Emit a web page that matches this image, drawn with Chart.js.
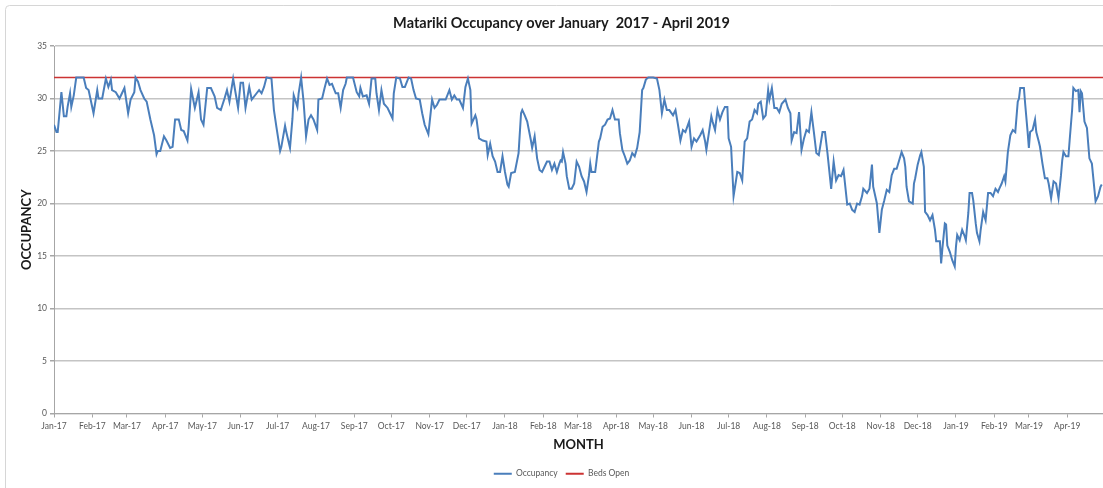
<!DOCTYPE html>
<html>
<head>
<meta charset="utf-8">
<title>Matariki Occupancy</title>
<script src="https://cdn.jsdelivr.net/npm/chart.js@4.4.1/dist/chart.umd.min.js"></script>
<style>
  html, body { margin: 0; padding: 0; background: #fff; }
  #wrap { width: 1103px; height: 488px; }
</style>
</head>
<body>
<div id="wrap"><canvas id="chart" width="1103" height="488"></canvas></div>
<script>
// Day of the period, counted from 1 January 2017 (day 0)
const days = [
  0,2,3,6,8,10,11,13,14,16,18,24,26,28,32,35,36,39,42,44,
  46,47,50,53,57,60,62,65,66,68,70,73,75,78,81,83,84,86,89,91,
  94,96,98,101,103,105,108,109,111,114,117,119,121,124,127,130,132,135,
  138,140,142,145,147,149,151,153,155,158,160,164,166,168,170,172,176,178,180,183,
  184,187,188,191,193,194,197,198,200,202,204,206,208,210,213,214,217,219,221,223,
  225,228,230,232,234,236,237,242,245,247,248,250,253,255,257,260,261,263,265,267,
  270,272,
  274,275,277,280,282,284,287,289,291,293,296,298,300,303,306,308,310,312,315,317,
  320,322,324,326,328,331,333,335,337,338,341,342,344,347,350,351,353,355,357,359,
  361,363,365,367,368,370,373,376,378,379,381,383,386,387,389,391,393,395,397,399,
  401,403,405,407,409,410,
  411,412,414,415,417,419,421,423,425,427,429,431,433,434,435,438,441,442,444,446,
  448,450,452,454,457,458,460,462,464,466,468,470,472,474,476,477,479,481,485,488,
  490,492,494,496,498,501,503,505,507,509,511,514,516,518,520,523,525,527,528,530,
  532,533,535,537,539,541,543,545,
  546,548,550,552,553,555,557,559,561,563,565,567,569,570,572,574,576,578,579,581,
  583,585,587,589,592,594,596,597,599,601,603,605,607,609,611,613,615,617,619,622,
  624,626,629,631,633,635,637,639,642,644,646,648,650,652,654,655,658,660,662,663,
  666,668,670,672,674,676,678,680,682,
  686,688,689,690,692,695,696,697,699,701,702,704,705,707,709,711,713,714,717,718,
  719,721,722,723,725,727,729,730,731,733,735,737,738,740,741,743,744,746,747,749,
  750,752,754,755,756,758,760,762,764,765,767,769,770,772,774,776,778,780,781,782,
  785,786,788,789,790,792,794,795,797,798,800,802,804,805,807,809,811,813,815,816,
  817,819,821,822,824,825,827,829,830,831,832,834,836,838,840,841,843,845,847,848
];

// Occupied beds on each of those days
const occupancy = [
  27.5,26.8,26.8,30.6,28.3,28.3,29.2,30.5,29.2,30.3,32,32,31,30.8,28.6,30.8,30,30,31.9,31.1,
  31.8,30.8,30.6,30,31,28.6,29.9,30.6,32,31.6,30.8,30,29.7,28,26.5,24.7,25,25,26.4,26,
  25.3,25.4,28,28,27,26.9,26,27.3,30.9,29.1,30.6,28,27.5,31,31,30.2,29.1,28.9,
  30,30.8,29.7,31.9,30.5,29.1,31.5,31.5,29.1,31.1,29.9,30.5,30.8,30.5,31.1,32,31.9,28.9,27.3,25,
  25.4,27.4,26.8,25.3,28.1,30.3,29.2,30.5,32,29.7,26.4,28,28.4,28,27,29.9,30,31,31.9,31.3,
  31.4,30.5,30.5,29.1,30.8,31.4,32,32,30.6,30.2,31,30.2,30.3,29.5,31.9,31.9,30.5,28.9,30.8,29.5,
  29.1,28.6,
  28.1,30.5,32,31.9,31.1,31.1,32,31.9,30.8,30,29.9,28.6,27.5,26.6,29.9,29.1,29.4,29.9,29.9,29.9,
  30.8,29.9,30.3,29.9,29.9,29.1,31.1,31.9,30.8,27.6,28.4,28,26.2,26,25.9,24.6,25.7,24.5,24,23,
  23,24.5,23,21.8,21.6,22.9,23,24.8,28.6,28.9,28.4,27.8,26,25.3,26.4,24.3,23.2,23,23.5,24,
  24,23.2,23.8,23,23.8,24.1,
  24.0,24.9,23.8,22.6,21.4,21.4,21.9,24.0,23.5,22.6,22.1,21.1,22.7,23.8,23.0,23.0,25.9,26.2,27.3,27.5,
  28.0,28.1,28.9,28.0,28.0,26.7,25.1,24.5,23.8,24.1,24.8,24.5,25.3,26.8,30.8,31.0,31.8,32,32,31.9,
  30.8,28.6,29.9,28.9,28.9,28.4,28.9,27.5,26.0,27.0,26.8,27.8,25.4,26.2,25.9,26.5,27.0,25.9,25.1,26.7,
  28.3,27.8,27.0,28.9,28.0,28.7,29.2,29.2,
  26.2,25.4,20.7,22.2,23.0,22.9,22.2,25.9,26.2,27.8,28.0,28.9,28.6,29.5,29.7,28.1,28.4,30.8,29.9,31.0,
  29.1,29.1,28.7,29.5,29.9,29.1,28.6,26.0,26.8,26.7,28.7,25.1,26.2,27.0,26.8,28.7,26.8,24.8,24.6,26.8,
  26.8,24.8,21.4,24.0,22.2,22.7,22.6,23.2,19.9,20.0,19.4,19.2,20.0,19.9,20.7,21.4,21.0,21.4,23.7,21.6,
  20.0,17.2,19.4,20.3,21.3,21.1,22.7,23.3,23.3,
  24.9,24.3,23.5,21.6,20.2,20.0,21.9,22.4,23.7,24.6,24.9,23.5,19.2,18.9,18.4,18.9,17.5,16.4,16.4,14.3,
  15.7,18.1,18.0,16.0,15.4,14.6,14.0,15.9,17.0,16.5,17.5,16.9,16.5,19.1,21.0,21.0,20.3,18.1,17.2,16.4,
  17.5,19.2,18.4,19.7,21.0,21.0,20.7,21.4,21.1,21.4,21.9,22.6,22.1,24.9,26.5,27.0,26.8,29.7,30.0,31.0,
  31.0,29.5,26.8,25.3,26.8,27.0,28.0,26.8,25.9,25.4,23.8,22.4,22.4,21.9,20.5,22.1,21.9,20.5,22.7,24.1,
  24.9,24.5,24.5,26.0,28.9,31.0,30.7,30.8,28.7,30.7,30.5,27.8,27.2,24.3,23.8,22.6,20.2,20.7,21.6,21.8
];

// Beds open over the whole period
const bedsOpenDays = [0, 849];
const bedsOpen = [32, 32];

// First day of each month and its axis label
const monthStartDays = [0,31,59,90,120,151,181,212,243,273,304,334,
                        365,396,424,455,485,516,546,577,608,638,669,699,
                        730,761,789,820];
const monthLabels = ['Jan-17','Feb-17','Mar-17','Apr-17','May-17','Jun-17','Jul-17','Aug-17','Sep-17','Oct-17','Nov-17','Dec-17',
                     'Jan-18','Feb-18','Mar-18','Apr-18','May-18','Jun-18','Jul-18','Aug-18','Sep-18','Oct-18','Nov-18','Dec-18',
                     'Jan-19','Feb-19','Mar-19','Apr-19'];
const lastDay = 849;

// Layout of the plot box
const PLOT_LEFT = 54;
const PLOT_BOTTOM = 413.5;
const LEFT_PAD = 20;

const FONT = 'Lato, "Open Sans", sans-serif';
const AXIS_GREY = '#a6a6a6';
const LABEL_GREY = '#595959';

// White background with a thin rounded frame around the chart object
const framePlugin = {
  id: 'frame',
  beforeDraw(chart) {
    const ctx = chart.ctx;
    ctx.save();
    ctx.fillStyle = '#ffffff';
    ctx.fillRect(0, 0, chart.width, chart.height);
    ctx.strokeStyle = '#d6d6d6';
    ctx.lineWidth = 1;
    ctx.beginPath();
    ctx.roundRect(5.5, 5.5, chart.width + 20, chart.height + 20, 4);
    ctx.stroke();
    ctx.restore();
  }
};

new Chart(document.getElementById('chart'), {
  type: 'line',
  data: {
    datasets: [
      {
        label: 'Occupancy',
        data: days.map((d, i) => ({ x: d, y: occupancy[i] })),
        borderColor: '#4a7ebb',
        backgroundColor: '#4a7ebb',
        borderWidth: 2,
        pointRadius: 0,
        tension: 0
      },
      {
        label: 'Beds Open',
        data: bedsOpenDays.map((d, i) => ({ x: d, y: bedsOpen[i] })),
        borderColor: '#cc3333',
        backgroundColor: '#cc3333',
        borderWidth: 1.5,
        pointRadius: 0,
        tension: 0
      }
    ]
  },
  options: {
    responsive: false,
    animation: false,
    devicePixelRatio: 1,
    layout: { padding: { left: LEFT_PAD, right: 0, top: 0, bottom: 0 } },
    plugins: {
      title: {
        display: true,
        text: 'Matariki Occupancy over January  2017 - April 2019',
        color: '#1a1a1a',
        font: { family: FONT, size: 14.5, weight: 'bold', lineHeight: 1.2 },
        padding: { top: 14.3, bottom: 14.3 }
      },
      legend: {
        position: 'bottom',
        labels: {
          boxWidth: 18,
          boxHeight: 2,
          padding: 8,
          color: LABEL_GREY,
          font: { family: FONT, size: 8.5 },
          generateLabels(chart) {
            return Chart.defaults.plugins.legend.labels.generateLabels(chart)
              .map(item => Object.assign(item, { fillStyle: item.strokeStyle, lineWidth: 0 }));
          }
        }
      },
      tooltip: { enabled: false }
    },
    scales: {
      x: {
        type: 'linear',
        min: 0,
        max: lastDay,
        afterBuildTicks(scale) {
          scale.ticks = monthStartDays.map(v => ({ value: v }));
        },
        afterFit(scale) {
          scale.height = scale.chart.height - PLOT_BOTTOM - scale.chart.legend.height;
        },
        ticks: {
          autoSkip: false,
          maxRotation: 0,
          minRotation: 0,
          padding: 4,
          color: LABEL_GREY,
          font: { family: FONT, size: 8.5 },
          callback: (value, index) => monthLabels[index]
        },
        grid: { drawOnChartArea: false, drawTicks: true, tickLength: 4, color: AXIS_GREY },
        border: { color: AXIS_GREY, width: 1 },
        title: {
          display: true,
          text: 'MONTH',
          color: '#1a1a1a',
          font: { family: FONT, size: 13, weight: 'bold', lineHeight: 1.2 },
          padding: { top: 0, bottom: 9 }
        }
      },
      y: {
        min: 0,
        max: 35,
        afterFit(scale) {
          scale.width = PLOT_LEFT - LEFT_PAD;
        },
        ticks: {
          stepSize: 5,
          padding: 3,
          color: LABEL_GREY,
          font: { family: FONT, size: 8.5 }
        },
        grid: { color: '#c4c4c4', lineWidth: 1.5, tickColor: AXIS_GREY, tickLength: 4 },
        border: { color: AXIS_GREY, width: 1 },
        title: {
          display: true,
          text: 'OCCUPANCY',
          color: '#1a1a1a',
          font: { family: FONT, size: 13, weight: 'bold', lineHeight: 1 },
          padding: { top: 0, bottom: 0 }
        }
      }
    }
  },
  plugins: [framePlugin]
});
</script>
</body>
</html>
